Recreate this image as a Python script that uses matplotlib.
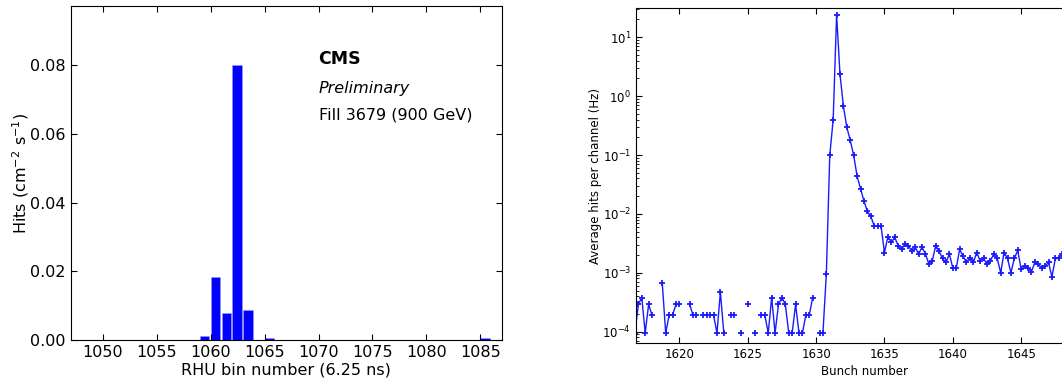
import numpy as np
import matplotlib
matplotlib.use("Agg")
import matplotlib.pyplot as plt

nan = np.nan

# left panel: hits per RHU bin
rhu_bins = [1059, 1060, 1061, 1062, 1063, 1065, 1085]
rhu_hits = [0.0012, 0.0182, 0.0080, 0.0800, 0.0087, 0.0006, 0.0006]

# right panel: average hits per channel, 4 RHU bins per bunch
bunch_start = 1616.75
bunch_step = 0.25
rate = [0.95e-4, 2.9e-4, 3.8e-4, 0.95e-4, 2.9e-4, 1.9e-4, nan, nan,
        6.6e-4, 0.95e-4, 1.9e-4, 1.9e-4, 2.9e-4, 2.9e-4, nan, nan,
        2.9e-4, 1.9e-4, 1.9e-4, nan, 1.9e-4, 1.9e-4, 1.9e-4, 1.9e-4,
        0.95e-4, 4.7e-4, 0.95e-4, nan, 1.9e-4, 1.9e-4, nan, 0.95e-4,
        nan, 2.9e-4, nan, 0.95e-4, nan, 1.9e-4, 1.9e-4, 0.95e-4,
        3.8e-4, 0.95e-4, 2.9e-4, 3.8e-4, 2.9e-4, 0.95e-4, 0.95e-4, 2.9e-4,
        0.95e-4, 0.95e-4, 1.9e-4, 1.9e-4, 3.8e-4, nan, 0.95e-4, 0.95e-4,
        9.5e-4, 0.099, 0.40, 23.9, 2.33, 0.668, 0.294, 0.177,
        0.0986, 0.0435, 0.0269, 0.0166, 0.011, 0.0091, 0.0063, 0.0063,
        0.0063, 0.0022, 0.0041, 0.0033, 0.0040, 0.0029, 0.0025, 0.0031,
        0.0029, 0.0023, 0.0027, 0.0021, 0.0027, 0.0021, 0.0014, 0.0016,
        0.0029, 0.0023, 0.00175, 0.0015, 0.0021, 0.0012, 0.0012, 0.0025,
        0.0019, 0.0015, 0.0018, 0.0015, 0.0022, 0.0016, 0.00175, 0.0014,
        0.0016, 0.0021, 0.00175, 0.0010, 0.0022, 0.00175, 0.0010, 0.00175,
        0.0024, 0.00114, 0.0013, 0.0012, 0.00104, 0.0015, 0.0014, 0.0012,
        0.0013, 0.0015, 0.00085, 0.00175, 0.00175, 0.0021, 0.0022]
bunch = bunch_start + bunch_step * np.arange(len(rate))

# old "classic" look: ticks inside on all four sides
plt.rcParams['xtick.direction'] = 'in'
plt.rcParams['ytick.direction'] = 'in'
plt.rcParams['xtick.top'] = True
plt.rcParams['ytick.right'] = True
plt.rcParams['xtick.major.size'] = 4
plt.rcParams['ytick.major.size'] = 4
plt.rcParams['xtick.minor.size'] = 2
plt.rcParams['ytick.minor.size'] = 2

fig = plt.figure(figsize=(10.62, 3.8), dpi=100)

# ---- left: histogram of RHU bins
ax1 = fig.add_axes([0.0666, 0.1053, 0.4058, 0.8797])
ax1.bar(rhu_bins, rhu_hits, width=0.88, align='edge', color='#0000ff',
        edgecolor='#9999ff', linewidth=0.4)
ax1.set_xlim(1047, 1087)
ax1.set_ylim(0, 0.0973)
ax1.set_xticks(range(1050, 1086, 5))
ax1.set_yticks([0.0, 0.02, 0.04, 0.06, 0.08])
ax1.set_yticklabels(['0.00', '0.02', '0.04', '0.06', '0.08'])
ax1.tick_params(labelsize=11.5)
ax1.set_xlabel('RHU bin number (6.25 ns)', fontsize=11.5, labelpad=2)
ax1.set_ylabel('Hits (cm$^{-2}$ s$^{-1}$)', fontsize=11.5)
ax1.yaxis.set_label_coords(-0.092, 0.5)
ax1.text(1070, 0.0817, 'CMS', fontsize=12.5, fontweight='bold', va='center')
ax1.text(1070, 0.0733, 'Preliminary', fontsize=11.5, style='italic', va='center')
ax1.text(1070, 0.0655, 'Fill 3679 (900 GeV)', fontsize=11.5, va='center')

# ---- right: rate per bunch (log), axes runs past the right border
ax2 = fig.add_axes([0.5989, 0.0966, 0.4296, 0.8816])
ax2.plot(bunch, rate, color='#1a1aff', lw=1, marker='+', ms=4, mew=1.3)
ax2.set_yscale('log')
ax2.set_xlim(1616.83, 1650.2)
ax2.set_ylim(6.35e-5, 31)
ax2.set_xticks(range(1620, 1650, 5))
ax2.tick_params(labelsize=8.5)
ax2.set_xlabel('Bunch number', fontsize=8.5, labelpad=3)
ax2.set_ylabel('Average hits per channel (Hz)', fontsize=8.5)
ax2.yaxis.set_label_coords(-0.075, 0.5)

fig.savefig('out.png', dpi=100)
